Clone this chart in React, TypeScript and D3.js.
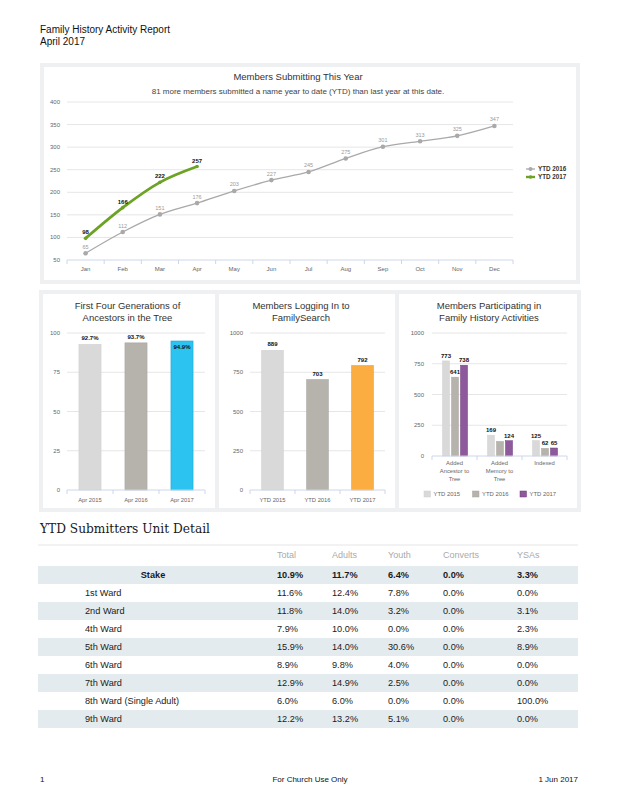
import React from 'react';
import * as d3 from 'd3';

// ---- data ----
const months = ['Jan', 'Feb', 'Mar', 'Apr', 'May', 'Jun', 'Jul', 'Aug', 'Sep', 'Oct', 'Nov', 'Dec'];
const ytd2016 = [65, 112, 151, 176, 203, 227, 245, 275, 301, 313, 325, 347];
const ytd2017 = [98, 166, 222, 257];
const lineTicks = [50, 100, 150, 200, 250, 300, 350, 400];

const ancestorCats = ['Apr 2015', 'Apr 2016', 'Apr 2017'];
const ancestorValues = [92.7, 93.7, 94.9];
const pctTicks = [0, 25, 50, 75, 100];

const loginCats = ['YTD 2015', 'YTD 2016', 'YTD 2017'];
const loginValues = [889, 703, 792];
const countTicks = [0, 250, 500, 750, 1000];

const activityCats = [['Added', 'Ancestor to', 'Tree'], ['Added', 'Memory to', 'Tree'], ['Indexed']];
const activitySeries = ['YTD 2015', 'YTD 2016', 'YTD 2017'];
const activity2015 = [773, 169, 125];
const activity2016 = [641, 118, 62];
const activity2017 = [738, 124, 65];
// labels hidden in the source chart (overlapping): [series, category]
const hiddenActivityLabels = [[1, 1]];

const tableColumns = ['Total', 'Adults', 'Youth', 'Converts', 'YSAs'];
const unitNames = ['Stake', '1st Ward', '2nd Ward', '4th Ward', '5th Ward', '6th Ward', '7th Ward', '8th Ward (Single Adult)', '9th Ward'];
const totalPct = [10.9, 11.6, 11.8, 7.9, 15.9, 8.9, 12.9, 6.0, 12.2];
const adultsPct = [11.7, 12.4, 14.0, 10.0, 14.0, 9.8, 14.9, 6.0, 13.2];
const youthPct = [6.4, 7.8, 3.2, 0.0, 30.6, 4.0, 2.5, 0.0, 5.1];
const convertsPct = [0.0, 0.0, 0.0, 0.0, 0.0, 0.0, 0.0, 0.0, 0.0];
const ysaPct = [3.3, 0.0, 3.1, 2.3, 8.9, 0.0, 0.0, 100.0, 0.0];

// ---- style ----
const FONT = '"Liberation Sans", Arial, Helvetica, sans-serif';
const GRID = '#e6e6e6';
const AXIS = '#ccd6eb';
const LABEL = '#666';
const PANEL_BG = '#eff0f2';
const LIGHT = '#d9d9d9';
const MID = '#b6b3ad';
const GREEN = '#6ca324';
const GRAY_LINE = '#a9a9a9';

const LineChart = () => {
  const x = d3.scaleBand<string>().domain(months).range([67, 513]);
  const y = d3.scaleLinear().domain([50, 400]).range([260, 102]);
  const cx = (i: number) => (x(months[i]) ?? 0) + x.bandwidth() / 2;
  const line = d3
    .line<number>()
    .x((_, i) => cx(i))
    .y((d) => y(d))
    .curve(d3.curveMonotoneX);

  return (
    <g fontFamily={FONT}>
      <text x={298} y={80} textAnchor="middle" fontSize={9.5} fill="#333">
        Members Submitting This Year
      </text>
      <text x={298} y={93.5} textAnchor="middle" fontSize={8} fill="#444">
        81 more members submitted a name year to date (YTD) than last year at this date.
      </text>

      {lineTicks.map((t) => (
        <g key={t}>
          {t !== 50 && <line x1={67} x2={513} y1={y(t)} y2={y(t)} stroke={GRID} strokeWidth={1} />}
          <text x={60} y={y(t) + 2} textAnchor="end" fontSize={6} fill={LABEL}>
            {t}
          </text>
        </g>
      ))}
      <line x1={67} x2={513} y1={y(50)} y2={y(50)} stroke={AXIS} strokeWidth={1} />
      {[...months.map((m) => x(m) ?? 0), 513].map((v, i) => (
        <line key={i} x1={v} x2={v} y1={y(50)} y2={y(50) + 4} stroke={AXIS} strokeWidth={1} />
      ))}
      {months.map((m, i) => (
        <text key={m} x={cx(i)} y={270.5} textAnchor="middle" fontSize={6} fill={LABEL}>
          {m}
        </text>
      ))}

      <path d={line(ytd2016) ?? ''} fill="none" stroke={GRAY_LINE} strokeWidth={1.3} />
      {ytd2016.map((v, i) => (
        <g key={i}>
          <circle cx={cx(i)} cy={y(v)} r={2.3} fill={GRAY_LINE} />
          <text x={cx(i)} y={y(v) - 4.5} textAnchor="middle" fontSize={5.5} fill="#9a9a9a">
            {v}
          </text>
        </g>
      ))}

      <path d={line(ytd2017) ?? ''} fill="none" stroke={GREEN} strokeWidth={2.8} />
      {ytd2017.map((v, i) => (
        <g key={i}>
          <circle cx={cx(i)} cy={y(v)} r={1.8} fill={GREEN} />
          <text x={cx(i)} y={y(v) - 4} textAnchor="middle" fontSize={6} fontWeight="bold" fill="#111">
            {v}
          </text>
        </g>
      ))}

      {/* legend */}
      <line x1={526} x2={535} y1={169} y2={169} stroke={GRAY_LINE} strokeWidth={1.3} />
      <circle cx={530.5} cy={169} r={2} fill={GRAY_LINE} />
      <text x={538} y={171.2} fontSize={6.3} fontWeight="bold" fill="#333">
        YTD 2016
      </text>
      <line x1={526} x2={535} y1={177} y2={177} stroke={GREEN} strokeWidth={2.4} />
      <circle cx={530.5} cy={177} r={1.8} fill={GREEN} />
      <text x={538} y={179.2} fontSize={6.3} fontWeight="bold" fill="#333">
        YTD 2017
      </text>
    </g>
  );
};

interface BarPanelProps {
  title: string[];
  titleX: number;
  cats: string[];
  values: number[];
  colors: string[];
  strokes: string[];
  ticks: number[];
  x0: number;
  x1: number;
  labelRight: number;
  fmt: (v: number) => string;
}

const BarPanel: React.FC<BarPanelProps> = ({ title, titleX, cats, values, colors, strokes, ticks, x0, x1, labelRight, fmt }) => {
  const max = d3.max(ticks) ?? 1;
  const x = d3.scaleBand<string>().domain(cats).range([x0, x1]).paddingInner(0.52).paddingOuter(0.26);
  const y = d3.scaleLinear().domain([0, max]).range([490, 333]);
  const edges = d3.range(cats.length + 1).map((i) => x0 + i * x.step());
  return (
    <g fontFamily={FONT}>
      {title.map((t, i) => (
        <text key={i} x={titleX} y={309 + i * 12} textAnchor="middle" fontSize={9.5} fill="#333">
          {t}
        </text>
      ))}
      {ticks.map((t) => (
        <g key={t}>
          {t !== 0 && <line x1={x0} x2={x1} y1={y(t)} y2={y(t)} stroke={GRID} />}
          <text x={labelRight} y={y(t) + 2} textAnchor="end" fontSize={6} fill={LABEL}>
            {t}
          </text>
        </g>
      ))}
      {values.map((v, i) => {
        const bx = x(cats[i]) ?? 0;
        const top = y(v);
        const inside = v / max > 0.94;
        return (
          <g key={i}>
            <rect x={bx} y={top} width={x.bandwidth()} height={490 - top} fill={colors[i]} stroke={strokes[i]} strokeWidth={0.6} />
            <text
              x={bx + x.bandwidth() / 2}
              y={inside ? top + 8 : top - 4}
              textAnchor="middle"
              fontSize={6}
              fontWeight="bold"
              fill="#111"
            >
              {fmt(v)}
            </text>
          </g>
        );
      })}
      <line x1={x0} x2={x1} y1={490} y2={490} stroke={AXIS} />
      {edges.map((e, i) => (
        <line key={i} x1={e} x2={e} y1={490} y2={494} stroke={AXIS} />
      ))}
      {cats.map((c) => (
        <text key={c} x={(x(c) ?? 0) + x.bandwidth() / 2} y={501.5} textAnchor="middle" fontSize={5.8} fill={LABEL}>
          {c}
        </text>
      ))}
    </g>
  );
};

const ActivityPanel = () => {
  const series = [activity2015, activity2016, activity2017];
  const colors = [LIGHT, MID, '#8e5a9b'];
  const strokes = ['#cfcfcf', '#a9a6a0', '#6e3d7c'];
  const catKeys = activityCats.map((c) => c.join(' '));
  const x0 = 432;
  const x1 = 567;
  const x = d3.scaleBand<string>().domain(catKeys).range([x0, x1]);
  const xs = d3.scaleBand<string>().domain(activitySeries).range([10.5, 35.5]).paddingInner(0.222);
  const y = d3.scaleLinear().domain([0, 1000]).range([456, 333]);
  const edges = d3.range(catKeys.length + 1).map((i) => x0 + i * x.step());
  const hidden = (s: number, c: number) => hiddenActivityLabels.some(([hs, hc]) => hs === s && hc === c);
  return (
    <g fontFamily={FONT}>
      <text x={489} y={309} textAnchor="middle" fontSize={9.5} fill="#333">
        Members Participating in
      </text>
      <text x={489} y={321} textAnchor="middle" fontSize={9.5} fill="#333">
        Family History Activities
      </text>
      {countTicks.map((t) => (
        <g key={t}>
          {t !== 0 && <line x1={x0} x2={x1} y1={y(t)} y2={y(t)} stroke={GRID} />}
          <text x={424} y={y(t) + 2} textAnchor="end" fontSize={6} fill={LABEL}>
            {t}
          </text>
        </g>
      ))}
      {series.map((vals, s) =>
        vals.map((v, c) => {
          const bx = (x(catKeys[c]) ?? 0) + (xs(activitySeries[s]) ?? 0);
          const top = y(v);
          return (
            <g key={`${s}-${c}`}>
              <rect x={bx} y={top} width={xs.bandwidth()} height={456 - top} fill={colors[s]} stroke={strokes[s]} strokeWidth={0.5} />
              {!hidden(s, c) && (
                <text x={bx + xs.bandwidth() / 2} y={top - 3} textAnchor="middle" fontSize={6} fontWeight="bold" fill="#111">
                  {v}
                </text>
              )}
            </g>
          );
        })
      )}
      <line x1={x0} x2={x1} y1={456} y2={456} stroke={AXIS} />
      {edges.map((e, i) => (
        <line key={i} x1={e} x2={e} y1={456} y2={460} stroke={AXIS} />
      ))}
      {activityCats.map((lines, c) =>
        lines.map((l, j) => (
          <text key={`${c}-${j}`} x={(x(catKeys[c]) ?? 0) + x.step() / 2} y={465 + j * 8} textAnchor="middle" fontSize={5.8} fill={LABEL}>
            {l}
          </text>
        ))
      )}
      {activitySeries.map((s, i) => {
        const lx = [424, 472.5, 520][i];
        return (
          <g key={s}>
            <rect x={lx} y={491} width={6.5} height={6} fill={colors[i]} stroke={strokes[i]} strokeWidth={0.5} />
            <text x={lx + 9.5} y={496.3} fontSize={5.9} fill={LABEL}>
              {s}
            </text>
          </g>
        );
      })}
    </g>
  );
};

const UnitTable = () => {
  const colX = [277, 332, 388, 443, 517];
  const cols = [totalPct, adultsPct, youthPct, convertsPct, ysaPct];
  const rows = d3.scaleBand<string>().domain(unitNames).range([566, 566 + 18 * unitNames.length]);
  return (
    <g fontFamily={FONT}>
      <text x={40} y={533} fontFamily='"DejaVu Serif", "Liberation Serif", serif' fontSize={12.5} fill="#1a1a1a" textLength={170} lengthAdjust="spacingAndGlyphs">
        YTD Submitters Unit Detail
      </text>
      <rect x={38} y={544} width={540} height={2} fill="#f2f2f2" />
      {tableColumns.map((c, i) => (
        <text key={c} x={colX[i]} y={558} fontSize={9} fill="#aaa">
          {c}
        </text>
      ))}
      {unitNames.map((u, r) => {
        const ry = rows(u) ?? 0;
        const bold = r === 0;
        return (
          <g key={u}>
            {r % 2 === 0 && <rect x={38} y={ry} width={540} height={rows.bandwidth()} fill="#e3ebee" />}
            <text
              x={bold ? 153 : 85}
              y={ry + 12.3}
              textAnchor={bold ? 'middle' : 'start'}
              fontSize={9.2}
              fontWeight={bold ? 'bold' : 'normal'}
              fill="#1a1a1a"
            >
              {u}
            </text>
            {cols.map((col, ci) => (
              <text key={ci} x={colX[ci]} y={ry + 12.3} fontSize={9.2} fontWeight={bold ? 'bold' : 'normal'} fill="#1a1a1a">
                {col[r].toFixed(1)}%
              </text>
            ))}
          </g>
        );
      })}
    </g>
  );
};

export default function App() {
  return (
    <svg
      width={618}
      height={800}
      viewBox="0 0 618 800"
      style={{ position: 'absolute', left: 0, top: 0, background: '#fff' }}
    >
      <rect width={618} height={800} fill="#fff" />
      <g fontFamily={FONT} fill="#111">
        <text x={40} y={32.5} fontSize={10}>
          Family History Activity Report
        </text>
        <text x={40} y={45} fontSize={10}>
          April 2017
        </text>
      </g>

      {/* panel frames */}
      <rect x={40} y={63} width={540} height={221} fill={PANEL_BG} />
      <rect x={44} y={67} width={532} height={213} fill="#fff" />
      <rect x={39} y={290} width={542} height={222} fill={PANEL_BG} />
      <rect x={43} y={294} width={172} height={214} fill="#fff" />
      <rect x={219} y={294} width={176} height={214} fill="#fff" />
      <rect x={399} y={294} width={178} height={214} fill="#fff" />

      <LineChart />
      <BarPanel
        title={['First Four Generations of', 'Ancestors in the Tree']}
        titleX={127.5}
        cats={ancestorCats}
        values={ancestorValues}
        colors={[LIGHT, MID, '#2dc3f1']}
        strokes={['#cfcfcf', '#a9a6a0', '#1aa6d6']}
        ticks={pctTicks}
        x0={67}
        x1={205}
        labelRight={60}
        fmt={(v) => `${v.toFixed(1)}%`}
      />
      <BarPanel
        title={['Members Logging In to', 'FamilySearch']}
        titleX={301}
        cats={loginCats}
        values={loginValues}
        colors={[LIGHT, MID, '#fbad42']}
        strokes={['#cfcfcf', '#a9a6a0', '#e9992c']}
        ticks={countTicks}
        x0={250}
        x1={385}
        labelRight={243}
        fmt={(v) => `${v}`}
      />
      <ActivityPanel />
      <UnitTable />

      <g fontFamily={FONT} fontSize={8} fill="#111">
        <text x={40} y={782}>1</text>
        <text x={310} y={782} textAnchor="middle">
          For Church Use Only
        </text>
        <text x={578} y={782} textAnchor="end">
          1 Jun 2017
        </text>
      </g>
    </svg>
  );
}
